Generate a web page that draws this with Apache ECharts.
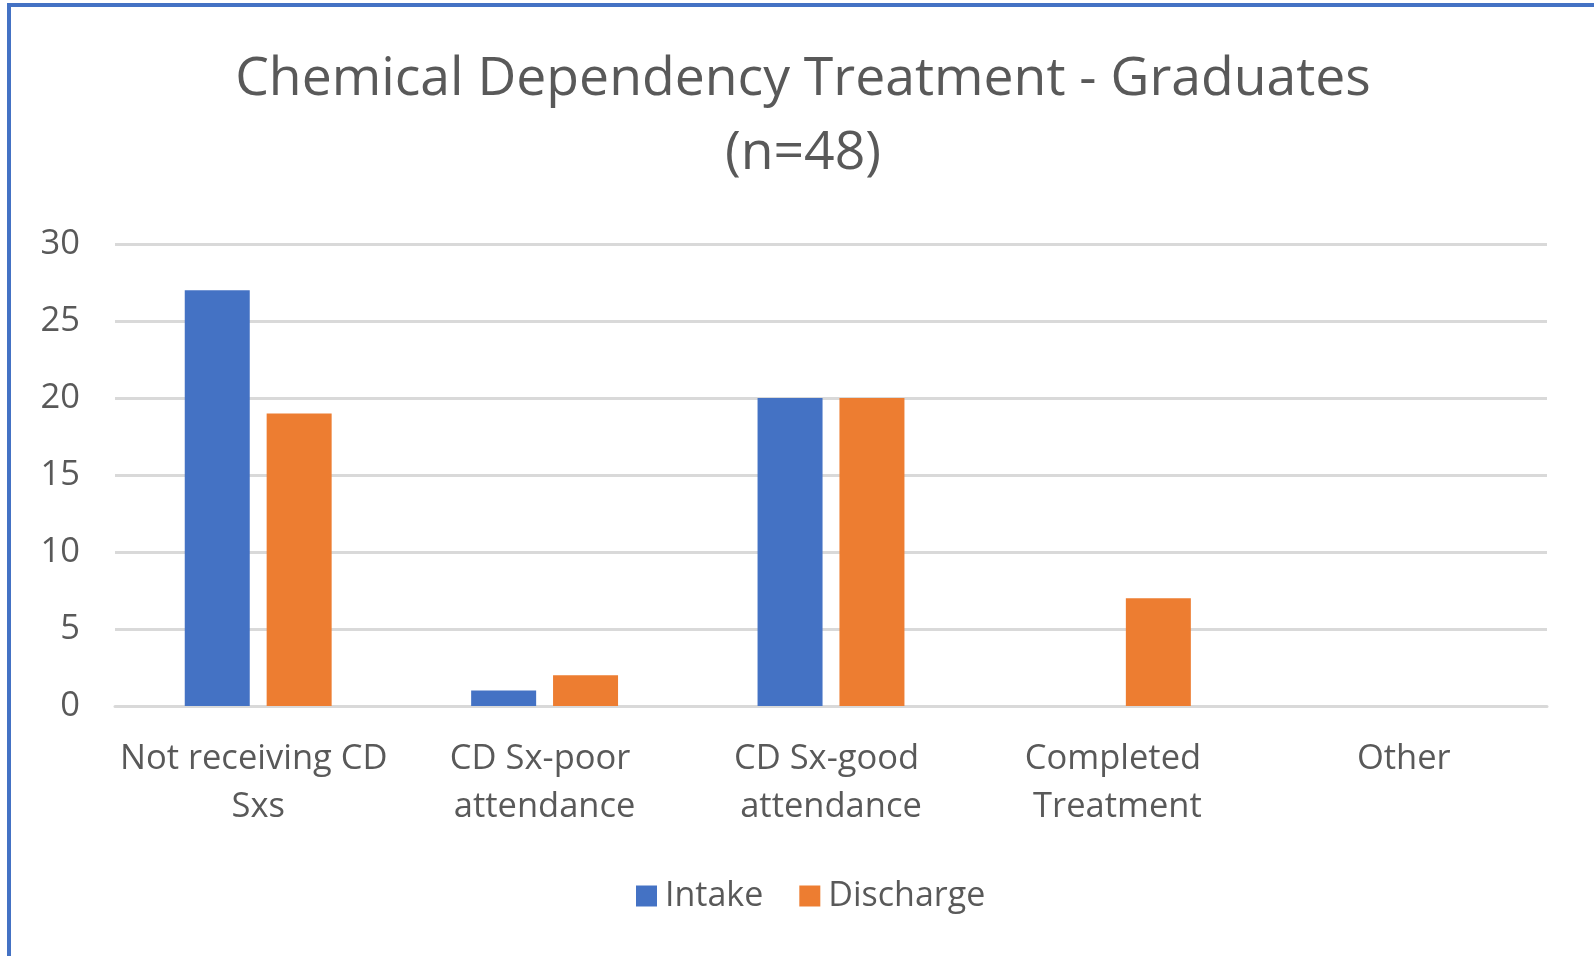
<!DOCTYPE html>
<html>
<head>
<meta charset="utf-8">
<script src="https://cdn.jsdelivr.net/npm/echarts@6/dist/echarts.min.js"></script>
<style>
  html, body { margin: 0; padding: 0; background: #fff; }
  #main { width: 1594px; height: 956px; }
</style>
</head>
<body>
<div id="main"></div>
<script>
var categories = ['Not receiving CD Sxs', 'CD Sx-poor attendance', 'CD Sx-good attendance', 'Completed Treatment', 'Other'];
var intake = [27, 1, 20, 0, 0];
var discharge = [19, 2, 20, 7, 0];
var yTicks = [0, 5, 10, 15, 20, 25, 30];

var chart = echarts.init(document.getElementById('main'));
var textColor = '#595959';
var font = 'Open Sans';

var option = {
  animation: false,
  title: {
    text: 'Chemical Dependency Treatment - Graduates\n(n=48)',
    left: 798,
    top: 38,
    textAlign: 'center',
    textStyle: {
      fontFamily: font,
      fontWeight: 'normal',
      fontSize: 53.5,
      lineHeight: 74,
      color: textColor
    }
  },
  legend: {
    data: ['Intake', 'Discharge'],
    left: 631,
    top: 874,
    itemWidth: 21,
    itemHeight: 21,
    itemGap: 36,
    icon: 'rect',
    textStyle: { fontFamily: font, fontSize: 34, color: textColor, padding: [0, 0, 0, 3] }
  },
  grid: { left: 115, right: 47, top: 244, bottom: 250, containLabel: false },
  xAxis: {
    type: 'category',
    data: categories,
    axisTick: { show: false },
    axisLine: { lineStyle: { color: '#D9D9D9', width: 3 } },
    axisLabel: {
      fontFamily: font,
      fontSize: 34.5,
      lineHeight: 48,
      color: textColor,
      margin: 29,
      width: 285,
      overflow: 'break',
      interval: 0
    }
  },
  yAxis: {
    type: 'value',
    min: yTicks[0],
    max: yTicks[yTicks.length - 1],
    interval: 5,
    axisLine: { show: false },
    axisTick: { show: false },
    splitLine: { lineStyle: { color: '#D9D9D9', width: 3 } },
    axisLabel: { fontFamily: font, fontSize: 34.5, color: textColor, margin: 35 }
  },
  graphic: [
    { type: 'rect', shape: { x: 7, y: 3, width: 1594, height: 4 }, style: { fill: '#4472C4' } },
    { type: 'rect', shape: { x: 7, y: 3, width: 4, height: 960 }, style: { fill: '#4472C4' } }
  ],
  series: [
    {
      name: 'Intake',
      type: 'bar',
      data: intake,
      barWidth: 65,
      barGap: '26%',
      itemStyle: { color: '#4472C4' }
    },
    {
      name: 'Discharge',
      type: 'bar',
      data: discharge,
      barWidth: 65,
      itemStyle: { color: '#ED7D31' }
    }
  ]
};

chart.setOption(option);
</script>
</body>
</html>
